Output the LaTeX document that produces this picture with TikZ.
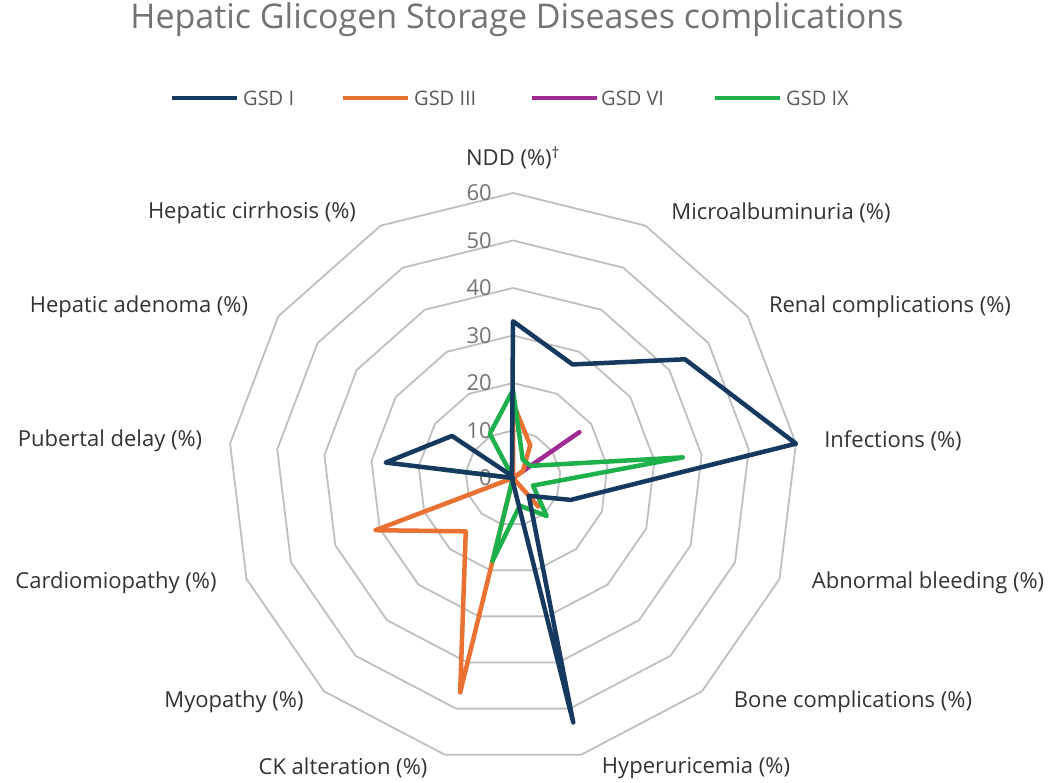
\documentclass[tikz,border=0pt]{standalone}
\usepackage{fontspec}
\setmainfont{Open Sans}
\begin{document}
\begin{tikzpicture}[x=1pt,y=-1pt,
  lab/.style={font=\fontsize{22}{24}\selectfont, text=black!80, inner sep=0pt},
  tick/.style={font=\fontsize{22}{24}\selectfont, text=black!55, inner sep=0pt, anchor=east},
  ser/.style={line width=4.5pt, line join=round, line cap=round}]
\definecolor{cnavy}{HTML}{163A5F}
\definecolor{corange}{HTML}{E97132}
\definecolor{cmag}{HTML}{A02B93}
\definecolor{cgreen}{HTML}{1DB04B}
\definecolor{cgrid}{HTML}{BFBFBF}
\useasboundingbox (0,0) rectangle (1064,783);
\fill[white] (0,0) rectangle (1064,783);
\def\cx{513}\def\cy{478}\def\sc{4.75}
% grid rings
\foreach \v in {10,20,...,60}{
  \draw[cgrid, line width=1.8pt, line join=round]
    plot[samples at={0,...,13}] ({\cx+\sc*\v*sin(\x*360/13)},{\cy-\sc*\v*cos(\x*360/13)});
}
% tick labels
\foreach \v in {0,10,...,60}{
  \node[tick] (t\v) at (492,{\cy-\sc*\v}) {\v};
}
% series
\newcommand{\series}[2]{%
  \path \foreach \v [count=\i from 0] in {#2} {({\cx+\sc*\v*sin(\i*360/13)},{\cy-\sc*\v*cos(\i*360/13)}) coordinate (q\i)};
  \draw[ser,#1] (q0) \foreach \i in {1,...,12}{--(q\i)} -- cycle;}
\series{cmag}{0,0,17,0,0,0,0,0,0,0,0,0,0}
\series{corange}{15.8,7.8,2.5,0,0,8,0,46.5,15,31,0,0,0}
\series{cgreen}{18.5,4.4,4.5,36,4.5,10.7,6,18,0,0,15,0,10.5}
\series{cnavy}{33,27,44,60,13,5,53,0.5,0,0,27,15.6,0.5}
% axis labels
\node[lab] (a0) at (513,158) {NDD (\%)\textsuperscript{\dag}};
\node[lab] (a1) at (781,213) {Microalbuminuria (\%)};
\node[lab] (a2) at (890,307) {Renal complications (\%)};
\node[lab] (a3) at (893,441) {Infections (\%)};
\node[lab] (a4) at (928,583) {Abnormal bleeding (\%)};
\node[lab] (a5) at (853,702) {Bone complications (\%)};
\node[lab] (a6) at (696,768) {Hyperuricemia (\%)};
\node[lab] (a7) at (343,768) {CK alteration (\%)};
\node[lab] (a8) at (234,702) {Myopathy (\%)};
\node[lab] (a9) at (116,583) {Cardiomiopathy (\%)};
\node[lab] (a10) at (110,441) {Pubertal delay (\%)};
\node[lab] (a11) at (139,307) {Hepatic adenoma (\%)};
\node[lab] (a12) at (252,213) {Hepatic cirrhosis (\%)};
% title
\node[font=\fontsize{34}{38}\selectfont, text=black!55, inner sep=0pt] (title) at (517,20) {Hepatic Glicogen Storage Diseases complications};
% legend
\tikzset{leg/.style={font=\fontsize{20}{22}\selectfont, text=black!65, inner sep=0pt, anchor=west}}
\draw[ser,cnavy,line cap=butt] (172,98) -- (237,98); \node[leg] (l1) at (243,98) {GSD I};
\draw[ser,corange,line cap=butt] (343,98) -- (408,98); \node[leg] (l2) at (414,98) {GSD III};
\draw[ser,cmag,line cap=butt] (532,98) -- (597,98); \node[leg] (l3) at (601,98) {GSD VI};
\draw[ser,cgreen,line cap=butt] (715,98) -- (780,98); \node[leg] (l4) at (786,98) {GSD IX};
\end{tikzpicture}
\end{document}
